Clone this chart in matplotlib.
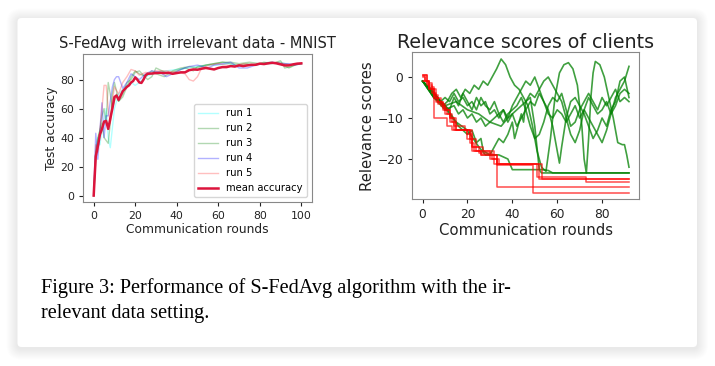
import matplotlib
matplotlib.use('Agg')
import matplotlib.pyplot as plt
from matplotlib.patches import FancyBboxPatch

# ---- left panel: test accuracy of 5 runs + mean ----
run1_x = [0, 1, 2, 3, 4, 5, 6, 7, 8, 10, 12, 15, 18, 20, 22, 25, 30, 35, 40, 45, 50, 55, 60, 65, 70, 75, 80, 85, 90, 95, 100]
run1_y = [0, 30, 40, 35, 45, 50, 60, 40, 33, 60, 70, 75, 78, 76, 78, 82, 85, 86, 87, 88, 89, 90, 90, 91, 89, 90, 91, 91, 92, 90, 91]

run2_x = [0, 1, 2, 3, 4, 5, 6, 7, 8, 9, 10, 11, 12, 14, 16, 18, 20, 22, 24, 26, 28, 30, 33, 36, 40, 44, 48, 50, 54, 58, 62, 66, 70, 74, 78, 82, 86, 90, 92, 95, 98, 100]
run2_y = [0, 25, 38, 45, 55, 60, 50, 78, 70, 60, 65, 70, 65, 70, 78, 80, 85, 86, 83, 80, 82, 88, 86, 84, 86, 88, 86, 89, 90, 91, 92, 91, 90, 91, 90, 92, 91, 93, 88, 89, 91, 91]

run3_x = [0, 1, 2, 3, 4, 5, 6, 7, 8, 9, 10, 11, 12, 14, 16, 18, 20, 22, 25, 28, 30, 34, 38, 42, 46, 50, 54, 58, 62, 66, 70, 75, 80, 85, 90, 94, 97, 100]
run3_y = [0, 30, 40, 45, 50, 40, 38, 36, 50, 70, 78, 72, 65, 68, 75, 82, 86, 84, 82, 86, 84, 82, 86, 88, 89, 88, 90, 91, 92, 92, 91, 92, 91, 92, 91, 88, 90, 91]

run4_x = [0, 1, 2, 3, 4, 5, 6, 7, 8, 9, 10, 11, 12, 13, 14, 16, 18, 20, 22, 25, 28, 32, 35, 38, 42, 46, 50, 55, 58, 62, 66, 70, 74, 78, 82, 86, 90, 94, 97, 100]
run4_y = [0, 43, 25, 45, 64, 40, 55, 55, 65, 75, 80, 82, 82, 78, 74, 78, 84, 82, 80, 84, 86, 85, 82, 84, 87, 89, 90, 88, 90, 91, 92, 88, 88, 90, 91, 92, 91, 91, 90, 91]

run5_x = [0, 1, 2, 3, 4, 5, 6, 7, 8, 9, 10, 12, 14, 16, 18, 20, 22, 25, 28, 30, 35, 40, 44, 46, 48, 50, 52, 56, 60, 64, 68, 72, 76, 80, 84, 88, 92, 96, 100]
run5_y = [0, 35, 30, 45, 60, 76, 76, 60, 50, 65, 75, 70, 78, 82, 87, 86, 83, 85, 84, 86, 86, 85, 84, 80, 79, 82, 88, 90, 91, 90, 89, 91, 90, 91, 91, 92, 91, 90, 91]

mean_x = [0, 1, 2, 3, 4, 5, 6, 7, 8, 9, 10, 11, 12, 13, 14, 15, 16, 17, 18, 19, 20, 21, 22, 23, 24, 25, 26,
          28, 30, 32, 34, 36, 38, 40, 42, 44, 46, 48, 50, 52, 54, 56, 58, 60, 62, 64, 66, 68, 70, 72, 74,
          76, 78, 80, 82, 84, 86, 88, 90, 92, 94, 96, 98, 100]
mean_y = [0, 27, 34, 42, 46, 51, 51.5, 46, 53, 60, 68, 69, 66, 69, 72, 73.5, 75, 76, 78, 79, 81.5, 80, 78, 77.7, 80, 83, 84,
          84.2, 84.5, 84.7, 84.5, 84.7, 84, 84.5, 85, 85, 86.5, 87, 86.8, 87.5, 88, 87.5, 87, 88, 88.6, 88.6, 89.3, 89, 89.8, 89.3, 89.8,
          90.2, 90.2, 91, 90.7, 91.2, 91.6, 91.2, 90.5, 89.8, 89.8, 90.5, 91, 91.2]

# ---- right panel: relevance scores of clients ----
# green clients (relevant data)
g1_x = [0, 5, 10, 15, 20, 25, 28, 30, 34, 38, 40, 52, 53, 92]
g1_y = [-1, -5, -7, -11, -13, -17, -19, -19, -19, -20, -22.6, -22.6, -23.4, -23.4]
g2_x = [0, 4, 8, 12, 16, 20, 22, 24, 26, 27, 30, 32, 34, 36, 38, 40, 41, 42, 44, 45, 46, 48, 50, 52, 54, 56, 58, 60, 62, 64, 66, 68, 70, 72, 74, 76, 78, 80, 82, 84, 86, 88, 90, 92]
g2_y = [-1, -3, -6, -9, -12, -14, -13, -16, -15, -18, -19, -17, -15, -16, -14, -11, -15, -13, -9, -11, -6, -4, -5, -3, -1, 0, -2, -4, -6, -10, -14, -16, -13, -8, -5, -7, -9, -8, -6, -9, -7, -4, -3, -4]
g3_x = [0, 3, 6, 9, 11, 13, 15, 17, 19, 21, 23, 25, 27, 29, 31, 33, 35, 37, 39, 41, 43, 45, 47, 49, 51, 53, 55, 57, 59, 61, 63, 65, 67, 69, 71, 72, 73, 74, 75, 76, 77, 79, 81, 83, 85, 87, 89, 90, 91, 92]
g3_y = [-1, -3, -5, -7, -6, -4, -3, -5, -3, -4, -2, -3, -1, -2, 0, 2, 4.4, 3, 0, -2, -3, -5, -7, -12, -18, -22, -23, -15, -5, 1, 3, 3.5, 2, -2, -12, -20, -23.4, -15, -5, 1, 3.8, 3, 0, -5, -10, -16, -16.5, -16.5, -19, -22]
g4_x = [0, 5, 10, 12, 14, 16, 18, 20, 22, 24, 26, 28, 30, 32, 34, 36, 38, 40, 42, 44, 46, 48, 50, 52, 54, 56, 58, 60, 61, 62, 64, 66, 68, 70, 72, 74, 76, 78, 80, 82, 84, 86, 88, 90, 92]
g4_y = [-1, -5, -7, -8, -5, -7, -4, -6, -8, -5, -7, -6, -9, -8, -10, -8, -11, -9, -12, -10, -8, -6, -7, -4, -6, -8, -12, -18, -21, -17, -10, -6, -5, -7, -9, -12, -15, -13, -10, -12, -8, -6, -1, 0, -5]
g5_x = [0, 5, 8, 10, 12, 14, 16, 18, 20, 22, 24, 26, 28, 30, 32, 34, 36, 38, 40, 42, 44, 46, 48, 50, 52, 54, 56, 58, 60, 62, 64, 66, 68, 70, 72, 74, 76, 78, 80, 82, 84, 86, 88, 90, 92]
g5_y = [-1, -4, -6, -5, -6, -4, -6, -5, -7, -6, -8, -5, -7, -8, -6, -9, -8, -10, -7, -5, -3, -1, -2, 0, -3, -6, -9, -10, -8, -9, -11, -9, -7, -10, -8, -10, -12, -14, -16, -13, -9, -5, -3, -1, 2.6]
g6_x = [0, 5, 10, 14, 16, 18, 20, 22, 24, 26, 28, 30, 32, 34, 36, 38, 40, 42, 44, 46, 48, 50, 52, 54, 56, 58, 60, 62, 64, 66, 68, 70, 72, 74, 76, 78, 80, 82, 84, 86, 88, 90, 92]
g6_y = [-1, -5, -8, -7, -9, -8, -10, -9, -11, -10, -12, -11, -10, -9, -11, -9, -8, -7, -5, -8, -12, -15, -14, -11, -7, -5, -6, -4, -8, -12, -11, -8, -6, -4, -6, -8, -5, -7, -5, -3, -6, -5, -6]
g7_x = [0, 5, 10, 15, 20, 25, 30, 35, 38, 40, 42, 44, 46, 48, 50, 52, 56, 58, 92]
g7_y = [-1, -4, -7, -6, -8, -9, -11, -12, -10, -9, -8, -7, -6, -5, -12, -22.5, -22.8, -23.4, -23.4]

# red clients (irrelevant data), step-wise drops
r1_x = [0, 2, 4, 6, 8, 10, 12, 14, 20, 22, 25, 31, 33, 92]
r1_y = [0.5, -1.5, -3, -5, -7, -9, -11, -13, -15, -17, -18.5, -20, -26.8, -26.8]
r2_x = [0, 1, 3, 5, 7, 9, 11, 13, 15, 21, 23, 26, 33, 49, 92]
r2_y = [0, -1, -2.5, -4.5, -6, -7.5, -9, -11, -13, -16, -18, -19, -21.5, -28.2, -28.2]
r3_x = [0, 2, 4, 6, 9, 12, 14, 19, 21, 24, 30, 34, 52, 92]
r3_y = [0.5, -2, -4, -6, -8, -10, -12, -13, -15, -18, -20, -21.3, -24.9, -24.9]
r4_x = [0, 1, 3, 5, 7, 10, 12, 15, 20, 22, 27, 32, 51, 73, 92]
r4_y = [0.3, -1, -3, -5, -6.5, -8, -10, -13, -14, -17, -18, -21.3, -24.3, -25.5, -25.5]
r5_x = [0, 3, 5, 11, 13, 22, 26, 33, 53, 92]
r5_y = [-1, -3, -10, -12, -13, -18, -19, -21.3, -24.9, -24.9]

green_x = [g1_x, g2_x, g3_x, g4_x, g5_x, g6_x, g7_x]
green_y = [g1_y, g2_y, g3_y, g4_y, g5_y, g6_y, g7_y]
red_x = [r1_x, r2_x, r3_x, r4_x, r5_x]
red_y = [r1_y, r2_y, r3_y, r4_y, r5_y]

caption1 = 'Figure 3: Performance of S-FedAvg algorithm with the ir-'
caption2 = 'relevant data setting.'

W, H = 715, 366
fig = plt.figure(figsize=(W / 100, H / 100), dpi=100)

# card with soft shadow behind everything
bg = fig.add_axes([0, 0, 1, 1])
bg.set_xlim(0, W)
bg.set_ylim(H, 0)
bg.axis('off')
for i in range(11, 0, -1):
    bg.add_patch(FancyBboxPatch((17.5 - i, 18 - i + 1.5), 679.5 + 2 * i, 329 + 2 * i,
                                boxstyle='round,pad=0,rounding_size=%g' % (4 + i),
                                fc='black', ec='none', alpha=0.008))
bg.add_patch(FancyBboxPatch((17.5, 18), 679.5, 329, boxstyle='round,pad=0,rounding_size=4',
                            fc='white', ec='none'))

# left panel
ax1 = fig.add_axes([83.3 / W, 1 - 202.3 / H, 228.4 / W, 148.3 / H])
ax1.plot(run1_x, run1_y, color='cyan', alpha=0.3, lw=1, label='run 1')
ax1.plot(run2_x, run2_y, color='green', alpha=0.3, lw=1, label='run 2')
ax1.plot(run3_x, run3_y, color='green', alpha=0.3, lw=1, label='run 3')
ax1.plot(run4_x, run4_y, color='blue', alpha=0.3, lw=1, label='run 4')
ax1.plot(run5_x, run5_y, color='red', alpha=0.25, lw=1, label='run 5')
ax1.plot(mean_x, mean_y, color='crimson', lw=1.8, label='mean accuracy')
ax1.set_xticks([0, 20, 40, 60, 80, 100])
ax1.set_yticks([0, 20, 40, 60, 80])
ax1.tick_params(labelsize=7.8, colors='#222222', length=3)
ax1.set_title('S-FedAvg with irrelevant data - MNIST', fontsize=10.5, pad=4, color='#222222')
ax1.set_xlabel('Communication rounds', fontsize=8.8, labelpad=1, color='#222222')
ax1.set_ylabel('Test accuracy', fontsize=8.8, labelpad=2, color='#222222')
ax1.legend(loc='lower right', fontsize=7.2, labelspacing=0.5)
for s in ax1.spines.values():
    s.set_color('#888888')

# right panel
ax2 = fig.add_axes([412.3 / W, 1 - 199.3 / H, 227 / W, 147 / H])
for xs, ys in zip(green_x, green_y):
    ax2.plot(xs, ys, color='green', alpha=0.75, lw=1.2)
for xs, ys in zip(red_x, red_y):
    ax2.plot(xs, ys, color='red', alpha=0.7, lw=1.1, drawstyle='steps-post')
ax2.set_xticks([0, 20, 40, 60, 80])
ax2.set_yticks([0, -10, -20])
ax2.tick_params(labelsize=8.8, colors='#222222', length=3)
ax2.set_title('Relevance scores of clients', fontsize=13.7, pad=3, color='#222222')
ax2.set_xlabel('Communication rounds', fontsize=10.7, labelpad=1, color='#222222')
ax2.set_ylabel('Relevance scores', fontsize=10.7, labelpad=2, color='#222222')
for s in ax2.spines.values():
    s.set_color('#888888')

# caption
fig.text(40.7 / W, 1 - 293.3 / H, caption1, fontfamily='Liberation Serif', fontsize=14.6, va='baseline')
fig.text(40.7 / W, 1 - 318.3 / H, caption2, fontfamily='Liberation Serif', fontsize=14.6, va='baseline')

fig.savefig('out.png', dpi=100)
